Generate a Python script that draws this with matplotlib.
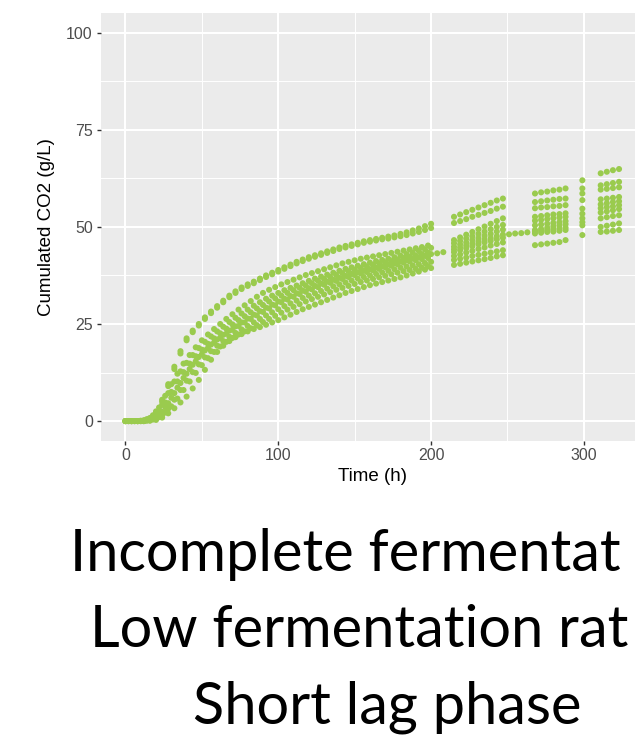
import matplotlib
matplotlib.use('Agg')
import matplotlib.pyplot as plt
from matplotlib.ticker import MultipleLocator

# sampling times (h)
t_main_a = [0, 4, 8, 12, 16, 20, 24, 28, 32, 36,
            40, 44, 48, 52, 56, 60, 64, 68, 72, 76,
            80, 84, 88, 92, 96, 100, 104, 108, 112, 116,
            120, 124, 128, 132, 136, 140, 144, 148, 152, 156,
            160, 164, 168, 172, 176, 180, 184, 188, 192, 196,
            200]
t_main_b = [2, 6, 10, 14, 18, 22, 26, 30, 34, 38,
            42, 46, 50, 54, 58, 62, 66, 70, 74, 78,
            82, 86, 90, 94, 98, 102, 106, 110, 114, 118,
            122, 126, 130, 134, 138, 142, 146, 150, 154, 158,
            162, 166, 170, 174, 178, 182, 186, 190, 194, 198]
t_late = [215, 219, 223, 227, 231, 235, 239, 243, 247,
          268, 272, 276, 280, 284, 288,
          299,
          311, 315, 319, 323]
t_extra = [204, 208, 251, 255, 259, 263]

# cumulated CO2 (g/L), one list per fermentation
co2_a = [0, 0, 0, 0.2, 0.8, 2.5, 5.5, 9.5, 14.0, 18.0,
         21.3, 23.3, 25.0, 26.7, 28.2, 29.6, 31.0, 32.3, 33.4, 34.4,
         35.2, 35.9, 36.7, 37.5, 38.2, 38.9, 39.6, 40.3, 41.0, 41.6,
         42.2, 42.7, 43.2, 43.7, 44.2, 44.7, 45.1, 45.5, 45.9, 46.3,
         46.6, 46.9, 47.2, 47.5, 47.8, 48.2, 48.6, 49.1, 49.6, 50.2,
         50.8]
co2_b = [0, 0, 0, 0.1, 0.6, 2.1, 5.0, 9.0, 13.4, 17.4,
         20.8, 22.9, 24.6, 26.3, 27.8, 29.2, 30.6, 31.9, 33.0, 34.0,
         34.8, 35.5, 36.3, 37.1, 37.8, 38.5, 39.2, 39.9, 40.6, 41.2,
         41.8, 42.3, 42.8, 43.3, 43.8, 44.3, 44.7, 45.1, 45.5, 45.9,
         46.2, 46.5, 46.8, 47.0, 47.3, 47.6, 47.9, 48.3, 48.7, 49.2,
         49.7]
co2_c = [0, 0, 0.1, 0.5, 1.5, 3.5, 6.5, 9.5, 12.2, 14.8,
         17.0, 19.0, 20.8, 22.3, 23.7, 25.0, 26.3, 27.5, 28.7, 29.8,
         30.9, 32.0, 33.0, 33.8, 34.5, 35.2, 35.8, 36.4, 37.0, 37.6,
         38.1, 38.6, 39.1, 39.6, 40.1, 40.6, 41.0, 41.4, 41.8, 42.1,
         42.4, 42.7, 43.0, 43.3, 43.6, 43.9, 44.2, 44.5, 44.8, 45.2]
co2_d = [0, 0, 0, 0.1, 0.6, 1.8, 4.2, 7.2, 10.2, 12.8,
         15.0, 17.0, 18.8, 20.4, 21.8, 23.1, 24.3, 25.5, 26.6, 27.7,
         28.7, 29.7, 30.6, 31.5, 32.3, 33.0, 33.7, 34.3, 34.9, 35.5,
         36.1, 36.7, 37.2, 37.7, 38.2, 38.7, 39.2, 39.6, 40.0, 40.4,
         40.8, 41.2, 41.5, 41.8, 42.2, 42.6, 43.0, 43.4, 43.8, 44.2,
         44.6]
co2_e = [0, 0, 0, 0.3, 1.0, 2.5, 4.8, 7.5, 10.2, 12.6,
         14.8, 16.7, 18.4, 19.9, 21.3, 22.6, 23.8, 24.9, 26.0, 27.0,
         28.0, 29.0, 29.9, 30.8, 31.6, 32.3, 33.0, 33.7, 34.3, 34.9,
         35.5, 36.1, 36.6, 37.1, 37.6, 38.1, 38.6, 39.0, 39.4, 39.8,
         40.2, 40.6, 40.9, 41.2, 41.6, 42.0, 42.3, 42.6, 43.0, 43.4]
co2_f = [0, 0, 0, 0, 0.3, 1.0, 2.4, 4.6, 7.2, 9.8,
         12.2, 14.5, 16.5, 18.2, 19.7, 21.0, 22.2, 23.3, 24.4, 25.4,
         26.4, 27.4, 28.3, 29.2, 30.0, 30.8, 31.5, 32.2, 32.9, 33.6,
         34.2, 34.8, 35.4, 35.9, 36.4, 36.9, 37.4, 37.9, 38.3, 38.7,
         39.1, 39.5, 39.9, 40.3, 40.7, 41.1, 41.5, 41.9, 42.2, 42.6,
         43.0]
co2_g = [0, 0, 0, 0.2, 0.7, 1.8, 3.6, 6.0, 8.6, 11.1,
         13.4, 15.4, 17.2, 18.8, 20.2, 21.4, 22.5, 23.5, 24.5, 25.4,
         26.3, 27.2, 28.1, 29.0, 29.8, 30.6, 31.3, 32.0, 32.7, 33.3,
         33.9, 34.5, 35.1, 35.6, 36.1, 36.6, 37.1, 37.6, 38.0, 38.4,
         38.8, 39.2, 39.6, 40.0, 40.4, 40.8, 41.1, 41.4, 41.7, 42.0]
co2_h = [0, 0, 0, 0, 0.2, 0.6, 1.5, 3.2, 5.5, 8.0,
         10.4, 12.6, 14.6, 16.4, 18.0, 19.4, 20.6, 21.7, 22.7, 23.6,
         24.5, 25.4, 26.3, 27.2, 28.0, 28.8, 29.6, 30.3, 31.0, 31.7,
         32.3, 32.9, 33.5, 34.1, 34.7, 35.2, 35.7, 36.2, 36.7, 37.1,
         37.5, 37.9, 38.3, 38.7, 39.1, 39.5, 39.8, 40.1, 40.4, 40.7,
         41.0]
co2_i = [0, 0, 0, 0.1, 0.4, 1.0, 2.2, 3.8, 5.8, 8.0,
         10.2, 12.4, 14.4, 16.2, 17.8, 19.2, 20.4, 21.4, 22.3, 23.1,
         23.9, 24.7, 25.5, 26.3, 27.1, 27.9, 28.7, 29.4, 30.1, 30.8,
         31.4, 32.0, 32.6, 33.2, 33.8, 34.3, 34.8, 35.3, 35.8, 36.2,
         36.6, 37.0, 37.4, 37.8, 38.2, 38.6, 38.9, 39.2, 39.5, 39.9]
co2_j = [0, 0, 0, 0, 0.1, 0.3, 0.9, 2.0, 3.3, 4.8,
         6.3, 8.4, 10.6, 13.2, 15.8, 17.8, 19.4, 20.6, 21.6, 22.4,
         23.1, 23.7, 24.2, 24.8, 25.4, 26.0, 26.7, 27.4, 28.1, 28.8,
         29.4, 30.0, 30.6, 31.2, 31.8, 32.4, 33.0, 33.5, 34.0, 34.5,
         35.0, 35.4, 35.8, 36.2, 36.6, 37.0, 37.5, 38.0, 38.5, 39.0,
         39.4]

# late measurements (t_late), same order of fermentations
late_a = [52.6, 53.2, 53.8, 54.4, 55.0, 55.6, 56.2, 56.8, 57.3,
          58.6, 58.9, 59.1, 59.4, 59.6, 59.9, 62.0, 63.8, 64.2, 64.6, 64.9]
late_b = [51.0, 51.5, 52.0, 52.6, 53.1, 53.6, 54.1, 54.7, 55.2,
          56.4, 56.6, 56.8, 57.0, 57.2, 57.3, 59.9, 60.7, 61.0, 61.3, 61.6]
late_c = [46.6, 47.3, 48.0, 48.7, 49.4, 50.1, 50.8, 51.5, 52.2,
          54.8, 55.0, 55.1, 55.3, 55.4, 55.6, 58.6, 59.6, 59.8, 60.0, 60.2]
late_d = [45.8, 46.4, 47.0, 47.6, 48.2, 48.8, 49.4, 50.0, 50.5,
          52.6, 52.8, 53.0, 53.2, 53.3, 53.5, 56.9, 57.1, 57.3, 57.5, 57.7]
late_e = [44.9, 45.5, 46.0, 46.6, 47.1, 47.7, 48.2, 48.8, 49.3,
          51.6, 51.8, 52.0, 52.2, 52.4, 52.6, 54.7, 55.8, 56.1, 56.4, 56.6]
late_f = [44.2, 44.7, 45.2, 45.7, 46.2, 46.7, 47.1, 47.6, 48.0,
          49.2, 49.5, 49.8, 50.1, 50.4, 50.7, 53.4, 54.8, 55.1, 55.3, 55.6]
late_g = [43.5, 44.0, 44.5, 45.0, 45.5, 46.0, 46.4, 46.8, 47.2,
          50.4, 50.6, 50.8, 51.0, 51.2, 51.5, 52.2, 53.7, 54.0, 54.3, 54.6]
late_h = [42.5, 42.9, 43.4, 43.8, 44.3, 44.7, 45.2, 45.6, 46.0,
          48.8, 49.0, 49.2, 49.4, 49.6, 49.8, 51.2, 52.2, 52.5, 52.8, 53.0]
late_i = [41.5, 41.8, 42.1, 42.5, 42.8, 43.1, 43.4, 43.7, 44.0,
          48.3, 48.5, 48.7, 48.8, 49.0, 49.2, 50.4, 50.0, 50.3, 50.6, 50.9]
late_j = [40.2, 40.5, 40.8, 41.1, 41.4, 41.7, 42.0, 42.4, 42.7,
          45.3, 45.5, 45.7, 45.9, 46.1, 46.6, 47.9, 48.7, 48.8, 49.0, 49.2]
extra_f = [43.2, 43.5, 48.1, 48.3, 48.4, 48.6]

labels = ['Incomplete fermentat', 'Low fermentation rat', 'Short lag phase']

point_color = '#9ACB4E'

series = [
    (t_main_a, co2_a), (t_main_a, co2_b), (t_main_b, co2_c),
    (t_main_a, co2_d), (t_main_b, co2_e), (t_main_a, co2_f),
    (t_main_b, co2_g), (t_main_a, co2_h), (t_main_b, co2_i),
    (t_main_a, co2_j),
]
late = [late_a, late_b, late_c, late_d, late_e, late_f, late_g, late_h, late_i, late_j]

W, H = 635, 735
fig = plt.figure(figsize=(W / 100, H / 100), dpi=100)
fig.patch.set_facecolor('white')

# panel runs past the right edge of the picture, as in the source crop
ax = fig.add_axes([100.7 / W, (H - 440.5) / H, 543.4 / W, 427.2 / H])
ax.set_facecolor('#EBEBEB')

dot = 19
for (t, y), yl in zip(series, late):
    ax.scatter(t, y, s=dot, color=point_color, edgecolors='none', zorder=3)
    ax.scatter(t_late, yl, s=dot, color=point_color, edgecolors='none', zorder=3)
ax.scatter(t_extra, extra_f, s=dot, color=point_color, edgecolors='none', zorder=3)

ax.set_xlim(-16.2, 339.4)
ax.set_ylim(-5, 105)
ax.xaxis.set_major_locator(MultipleLocator(100))
ax.xaxis.set_minor_locator(MultipleLocator(50))
ax.yaxis.set_major_locator(MultipleLocator(25))
ax.yaxis.set_minor_locator(MultipleLocator(12.5))
ax.grid(which='major', color='white', linewidth=1.5, zorder=1)
ax.grid(which='minor', color='white', linewidth=0.7, zorder=1)
ax.set_axisbelow(True)
for sp in ax.spines.values():
    sp.set_visible(False)

ax.tick_params(which='major', length=3.2, width=1.0, color='#333333',
               labelcolor='#4D4D4D', labelsize=11.5, pad=2.5)
ax.tick_params(which='minor', length=0)
for lab in ax.get_xticklabels() + ax.get_yticklabels():
    lab.set_family('Liberation Sans')

fig.text(47 / W, 1 - 227 / H, 'Cumulated CO2 (g/L)', rotation=90,
         ha='center', va='center', fontsize=13.5, family='Liberation Sans')
fig.text(372 / W, 1 - 476.5 / H, 'Time (h)', ha='center', va='center',
         fontsize=13.5, family='Liberation Sans')

# caption lines under the chart, running up to the right edge
xs = [70, 90, 193]
baselines = [571, 647, 723]
for s, x, yb in zip(labels, xs, baselines):
    fig.text(x / W, 1 - yb / H, s, ha='left', va='baseline',
             fontsize=41.6, family='Lato', color='black')

fig.savefig('out.png', dpi=100)
